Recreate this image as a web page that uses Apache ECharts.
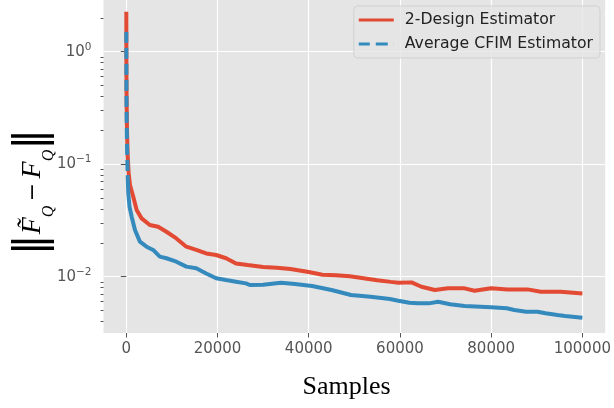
<!DOCTYPE html>
<html>
<head>
<meta charset="utf-8">
<script src="https://cdn.jsdelivr.net/npm/echarts@6/dist/echarts.min.js"></script>
<style>html,body{margin:0;padding:0;background:#fff}#c{width:614px;height:408px}</style>
</head>
<body>
<div id="c"></div>
<script>
// ---- data ----
const redName = '2-Design Estimator';
const blueName = 'Average CFIM Estimator';
const redX = [0, 20, 60, 150, 300, 500, 806, 1525, 2266, 3355, 5165, 6980, 8800, 10980, 13160, 15340, 17520, 19700, 21880, 24060, 26590, 30000, 33000, 36000, 40000, 43000, 46000, 49000, 52000, 55000, 58000, 59640, 62550, 64730, 67640, 70540, 74170, 76350, 79990, 83600, 87970, 90870, 95230, 100000];
const redY = [2.27, 0.8, 0.4, 0.2, 0.12, 0.085, 0.0653, 0.0514, 0.0392, 0.033, 0.0288, 0.0278, 0.0251, 0.0219, 0.0185, 0.0173, 0.0161, 0.0156, 0.0146, 0.0131, 0.0127, 0.0122, 0.0120, 0.0117, 0.0110, 0.0104, 0.0103, 0.0101, 0.0097, 0.0093, 0.0090, 0.00885, 0.00891, 0.00815, 0.00762, 0.00789, 0.00789, 0.0075, 0.00789, 0.00772, 0.00772, 0.00736, 0.00736, 0.00711];
const blueX = [0, 20, 60, 150, 300, 436, 700, 1180, 1900, 2985, 4440, 5885, 7345, 8800, 10980, 13160, 15340, 17520, 19700, 21880, 24060, 26240, 27090, 30000, 33900, 37000, 40730, 45000, 49270, 53540, 57800, 59640, 62070, 64000, 66340, 68360, 71000, 74170, 79990, 83400, 85070, 87680, 90150, 91940, 94510, 96200, 100000];
const blueY = [1.5, 0.6, 0.3, 0.15, 0.08, 0.0551, 0.042, 0.0341, 0.026, 0.0205, 0.0185, 0.0173, 0.0151, 0.0146, 0.0136, 0.0123, 0.0119, 0.0107, 0.0097, 0.00935, 0.00904, 0.00873, 0.00844, 0.0085, 0.00885, 0.0086, 0.00827, 0.00762, 0.00688, 0.00664, 0.00633, 0.00612, 0.00587, 0.0058, 0.0058, 0.006, 0.0057, 0.0055, 0.00535, 0.00524, 0.00506, 0.00489, 0.00489, 0.00473, 0.00457, 0.00448, 0.00432];
const blueDashEnd = 5; // steep initial part drawn dashed
const xTicks = [0, 20000, 40000, 60000, 80000, 100000];
const yMajor = [0.01, 0.1, 1];
const yMinor = [0.004, 0.005, 0.006, 0.007, 0.008, 0.009, 0.02, 0.03, 0.04, 0.05, 0.06, 0.07, 0.08, 0.09, 0.2, 0.3, 0.4, 0.5, 0.6, 0.7, 0.8, 0.9, 2];
const xMin = -5000, xMax = 105000, xStep = 20000;
const yMin = 0.003162, yMax = 2.88;

const zip = (xs, ys) => xs.map((x, i) => [x, ys[i]]);
const redData = zip(redX, redY);
const blueData = zip(blueX, blueY);

const RED = '#E24A33', BLUE = '#348ABD';
const tickFont = 'DejaVu Sans';

const chart = echarts.init(document.getElementById('c'), null, {renderer: 'canvas'});
function supLabel(v) {
  const e = Math.round(Math.log10(v));
  return '{b|10}{s|' + (e < 0 ? '\u2212' + (-e) : e) + '}';
}
const yAxisBase = {
  type: 'log', logBase: 10, min: yMin, max: yMax, position: 'left',
  axisLine: {show: false}
};
chart.setOption({
  animation: false,
  backgroundColor: '#fff',
  grid: {left: 103.5, right: 6, top: 0, bottom: 75, show: true, backgroundColor: '#E5E5E5', borderWidth: 0, containLabel: false},
  xAxis: {
    type: 'value', min: xMin, max: xMax, minInterval: xStep, maxInterval: xStep,
    axisLine: {show: false},
    axisTick: {show: true, customValues: xTicks, length: 4.5, lineStyle: {color: '#555', width: 1}},
    axisLabel: {customValues: xTicks, margin: 9, color: '#555', fontFamily: tickFont, fontSize: 15,
      formatter: v => String(v)},
    splitLine: {show: true, lineStyle: {color: '#fff', width: 1.2}}
  },
  yAxis: [
    Object.assign({}, yAxisBase, {
      axisTick: {show: true, customValues: yMajor, length: 5.5, lineStyle: {color: '#555', width: 1}},
      axisLabel: {customValues: yMajor, margin: 12, formatter: supLabel,
        rich: {
          b: {fontFamily: tickFont, fontSize: 15, color: '#555', lineHeight: 20},
          s: {fontFamily: tickFont, fontSize: 10.5, color: '#555', lineHeight: 10, verticalAlign: 'top'}
        }},
      splitLine: {show: true, lineStyle: {color: '#fff', width: 1.2}}
    }),
    Object.assign({}, yAxisBase, {
      axisTick: {show: true, customValues: yMinor, length: 3, lineStyle: {color: '#555', width: 1}},
      axisLabel: {show: false},
      splitLine: {show: false}
    })
  ],
  legend: {
    right: 14, top: 6, orient: 'vertical', itemWidth: 35, itemHeight: 3, itemGap: 8,
    padding: [6, 7, 6, 5],
    backgroundColor: 'rgba(229,229,229,0.8)', borderColor: 'rgba(204,204,204,0.8)', borderWidth: 1, borderRadius: 4,
    textStyle: {fontFamily: tickFont, fontSize: 15.7, color: '#222', lineHeight: 16, padding: [0, 0, 0, 6]},
    data: [
      {name: redName, icon: 'rect'},
      {name: blueName, icon: 'path://M0,0h11v3h-11zM17,0h12v3h-12zM34.9,0h0.1v3h-0.1z'}
    ]
  },
  graphic: [
    {type: 'text', x: 346.5, y: 387,
      style: {text: 'Samples', fontFamily: 'Liberation Serif', fontSize: 26, fill: '#000', align: 'center', verticalAlign: 'middle'}},
    {type: 'text', rotation: Math.PI / 2, x: 33, y: 192,
      style: {
        text: '{n|\u2016}{f|F\u0303}{s|Q}{m|\u2009\u2212\u2009}{f|F}{s|Q}{n|\u2016}',
        align: 'center', verticalAlign: 'middle',
        rich: {
          n: {fontFamily: 'DejaVu Sans', fontSize: 42, fill: '#000', lineHeight: 48},
          f: {fontFamily: 'Liberation Serif', fontStyle: 'italic', fontSize: 28, fill: '#000', lineHeight: 48},
          m: {fontFamily: 'DejaVu Serif', fontSize: 22, fill: '#000', lineHeight: 48},
          s: {fontFamily: 'Liberation Serif', fontSize: 16, fontStyle: 'italic', fill: '#000', lineHeight: 34, verticalAlign: 'bottom'}
        }
      }}
  ],
  series: [
    {name: redName, type: 'line', data: redData, showSymbol: false, symbol: 'none', z: 2,
      lineStyle: {color: RED, width: 4}, itemStyle: {color: RED}},
    {name: blueName, type: 'line', data: blueData.slice(0, blueDashEnd), showSymbol: false, symbol: 'none', z: 3,
      lineStyle: {color: BLUE, width: 4, type: [11, 5]}, itemStyle: {color: BLUE}},
    {name: blueName, type: 'line', data: blueData.slice(blueDashEnd - 1), showSymbol: false, symbol: 'none', z: 3,
      lineStyle: {color: BLUE, width: 4}, itemStyle: {color: BLUE}}
  ]
});
</script>
</body>
</html>
